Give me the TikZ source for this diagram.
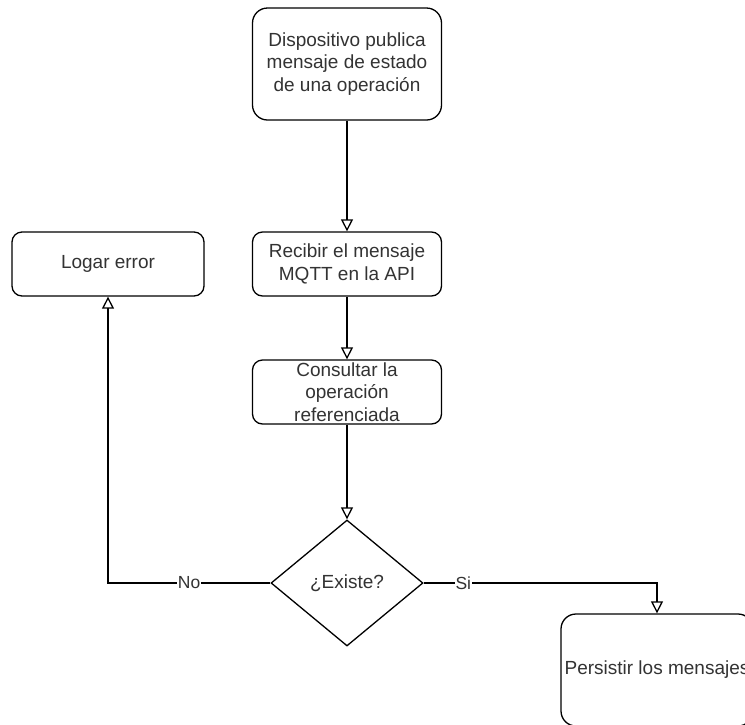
\documentclass[tikz,border=0pt]{standalone}
\usepackage{fontspec}
\setmainfont{Liberation Sans}
\usetikzlibrary{arrows.meta,shapes.geometric}

\tikzset{
  box/.style={draw=black, line width=1.3pt, fill=white, rectangle,
    rounded corners=10pt, inner sep=0pt, align=center,
    text=black!80, font=\fontsize{19}{22.5}\selectfont},
  decision/.style={draw=black, line width=1.3pt, fill=white, diamond,
    inner sep=0pt, aspect=1.2, minimum width=152pt, minimum height=126pt,
    text=black!80, font=\fontsize{19}{22.5}\selectfont},
  flow/.style={draw=black, line width=1.3pt,
    -{Triangle[open, length=12pt, width=12pt, line width=1.3pt]}},
  lbl/.style={fill=white, inner sep=0.5pt, text=black!80,
    font=\fontsize{17.5}{20}\selectfont}
}

\begin{document}
\begin{tikzpicture}[x=1pt, y=-1pt]
  \useasboundingbox (0,0) rectangle (745,724);
  \clip (0,0) rectangle (745,724);

  % process steps
  \node[box, rounded corners=15pt, minimum width=189pt, minimum height=112pt]
    (pub) at (347,64) {Dispositivo publica\\mensaje de estado\\de una operación};
  \node[box, minimum width=189pt, minimum height=64pt]
    (recv) at (347,264) {Recibir el mensaje\\MQTT en la API};
  \node[box, minimum width=189pt, minimum height=64pt]
    (query) at (347,392) {Consultar la\\operación\\referenciada};
  \node[box, minimum width=192pt, minimum height=64pt]
    (log) at (108,264) {Logar error};
  \node[decision] (exists) at (347,583) {¿Existe?};
  \node[box, rounded corners=15pt, minimum width=192pt, minimum height=112pt]
    (store) at (657,670) {Persistir los mensajes};

  % connectors
  \draw[flow] (pub.south) -- (recv.north);
  \draw[flow] (recv.south) -- (query.north);
  \draw[flow] (query.south) -- (exists.north);
  \draw[flow] (exists.west) -| node[lbl, pos=0.25] {No} (log.south);
  \draw[flow] (exists.east) -| node[lbl, pos=0.085] {Si} (store.north);
\end{tikzpicture}
\end{document}
